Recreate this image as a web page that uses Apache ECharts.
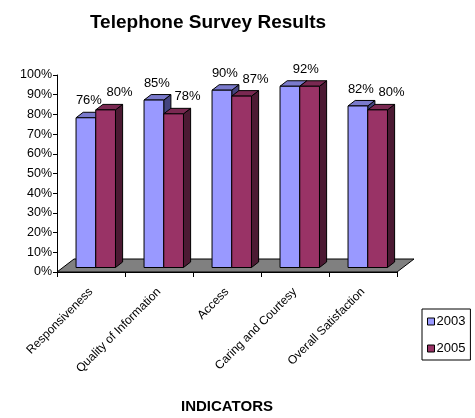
<!DOCTYPE html>
<html>
<head>
<meta charset="utf-8">
<script src="https://cdn.jsdelivr.net/npm/echarts@6/dist/echarts.min.js"></script>
<style>html,body{margin:0;padding:0;background:#fff;}#c{width:475px;height:418px;}</style>
</head>
<body>
<div id="c"></div>
<script>
const categories = ['Responsiveness', 'Quality of Information', 'Access', 'Caring and Courtesy', 'Overall Satisfaction'];
const values2003 = [76, 85, 90, 92, 82];
const values2005 = [80, 78, 87, 92, 80];
const seriesNames = ['2003', '2005'];
const yTicks = [0, 10, 20, 30, 40, 50, 60, 70, 80, 90, 100];

const FONT = '"Liberation Sans", Arial, sans-serif';
const palette = [
  { front: '#9999FF', top: '#7A7ACC', side: '#44447F' },
  { front: '#993366', top: '#7A2952', side: '#4C1A33' }
];
const allValues = [values2003, values2005];

function barRender(s) {
  return function (params, api) {
    const idx = api.value(0);
    const val = api.value(1);
    const base = api.coord([idx, 0]);
    const cx = base[0];
    const bw = api.size([1, 0])[0];
    const barW = bw * 0.29;
    const fx = bw * 0.07, fy = -4.5;
    const dx = bw * 0.105, dy = -5.5;
    const left = cx - barW + fx + s * barW;
    const top = api.coord([idx, val])[1] + fy;
    const bottom = base[1] + fy;
    const c = palette[s];
    const st = { stroke: '#000', lineWidth: 1 };
    const children = [
      { type: 'polygon', shape: { points: [[left + barW, top], [left + barW + dx, top + dy], [left + barW + dx, bottom + dy], [left + barW, bottom]] }, style: Object.assign({ fill: c.side }, st) },
      { type: 'polygon', shape: { points: [[left, top], [left + dx, top + dy], [left + barW + dx, top + dy], [left + barW, top]] }, style: Object.assign({ fill: c.top }, st) },
      { type: 'rect', shape: { x: left, y: top, width: barW, height: bottom - top }, style: Object.assign({ fill: c.front }, st) }
    ];
    const other = allValues[1 - s][idx];
    let lx = null;
    if (other === val) {
      if (s === 0) lx = left + barW + 6;
    } else {
      lx = left + barW / 2 + (s === 0 ? 3 : 14);
    }
    if (lx !== null) {
      children.push({ type: 'text', x: lx, y: top - 17, style: { text: val + '%', fill: '#000', font: '13px ' + FONT, textAlign: 'center', textVerticalAlign: 'middle' }, z2: 10 });
    }
    return { type: 'group', children: children };
  };
}

function floorRender(params, api) {
  const cs = params.coordSys;
  const x0 = cs.x, x1 = cs.x + cs.width, y = cs.y + cs.height;
  const dx = 17, dy = -13;
  return {
    type: 'polygon',
    shape: { points: [[x0, y], [x1, y], [x1 + dx, y + dy], [x0 + dx, y + dy]] },
    style: { fill: '#808080', stroke: '#000', lineWidth: 1 }
  };
}

const chart = echarts.init(document.getElementById('c'), null, { renderer: 'canvas' });
chart.setOption({
  animation: false,
  backgroundColor: '#fff',
  title: {
    text: 'Telephone Survey Results',
    left: 203, top: 8, textAlign: 'center',
    textStyle: { fontFamily: FONT, fontWeight: 'bold', fontSize: 19, color: '#000' }
  },
  legend: {
    orient: 'vertical', left: 422, top: 309,
    padding: [6, 5, 5, 5],
    borderColor: '#000', borderWidth: 1,
    itemWidth: 7, itemHeight: 7, itemGap: 14,
    textStyle: { fontFamily: FONT, fontSize: 13, color: '#000', padding: [0, 0, 0, -3] },
    data: seriesNames.map((n, i) => ({ name: n, icon: 'rect', itemStyle: { color: palette[i].front, borderColor: '#000', borderWidth: 1 } }))
  },
  grid: { left: 57, right: 78, top: 75, bottom: 146 },
  xAxis: {
    type: 'category', data: categories, boundaryGap: true,
    axisLine: { lineStyle: { color: '#000', width: 1 } },
    axisTick: { show: true, length: 5, lineStyle: { color: '#000' } },
    axisLabel: { rotate: 45, interval: 0, margin: 18, fontFamily: FONT, fontSize: 12, color: '#000' },
    name: 'INDICATORS', nameLocation: 'middle', nameGap: 127,
    nameTextStyle: { fontFamily: FONT, fontWeight: 'bold', fontSize: 15, color: '#000' }
  },
  yAxis: {
    type: 'value', min: yTicks[0], max: yTicks[yTicks.length - 1], interval: 10,
    axisLine: { show: true, lineStyle: { color: '#000', width: 1 } },
    axisTick: { show: true, length: 4, lineStyle: { color: '#000' } },
    splitLine: { show: false },
    axisLabel: { formatter: '{value}%', margin: 5, fontFamily: FONT, fontSize: 12.5, color: '#000' }
  },
  series: [
    { type: 'custom', name: 'floor', renderItem: floorRender, data: [[0, 0]], silent: true, z: 1 },
    { type: 'custom', name: '2003', renderItem: barRender(0), data: values2003.map((v, i) => [i, v]), itemStyle: { color: palette[0].front }, z: 2 },
    { type: 'custom', name: '2005', renderItem: barRender(1), data: values2005.map((v, i) => [i, v]), itemStyle: { color: palette[1].front }, z: 3 }
  ]
});
</script>
</body>
</html>
